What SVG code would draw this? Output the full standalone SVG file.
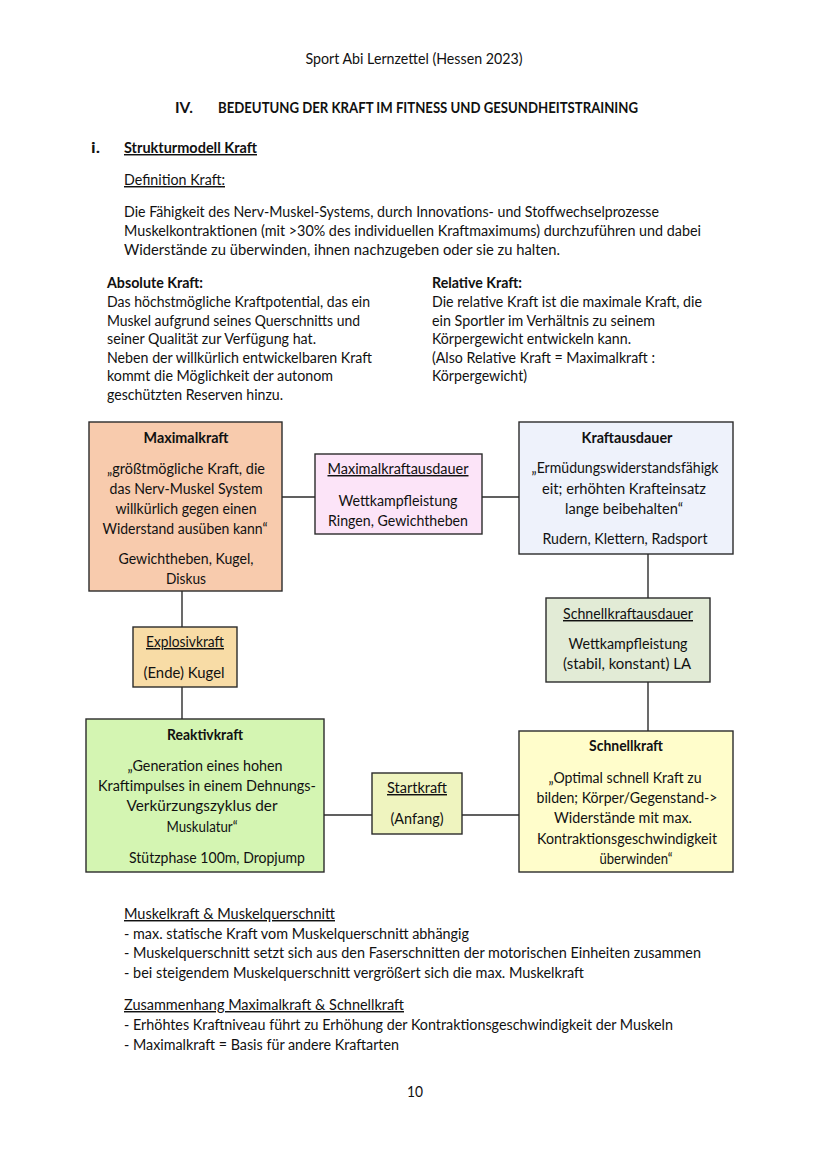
<svg xmlns="http://www.w3.org/2000/svg" width="828" height="1171" viewBox="0 0 828 1171">
<style>
text{font-family:Lato,"Open Sans","Liberation Sans",sans-serif;font-size:14.5px;fill:#111}
.b{font-weight:bold}
.u{text-decoration:underline}
.m{text-anchor:middle}
.box{stroke:#2b2b2b;stroke-width:1.4}
.c line{stroke:#2b2b2b;stroke-width:1.4}
</style>
<rect width="828" height="1171" fill="#fff"/>
<g id="header">
<text x="414" y="64" class="m" textLength="217" lengthAdjust="spacingAndGlyphs">Sport Abi Lernzettel (Hessen 2023)</text>
<text x="175" y="113" class="b" textLength="18" lengthAdjust="spacingAndGlyphs">IV.</text>
<text x="218" y="113" class="b" textLength="420" lengthAdjust="spacingAndGlyphs">BEDEUTUNG DER KRAFT IM FITNESS UND GESUNDHEITSTRAINING</text>
<text x="91" y="153" class="b" textLength="9" lengthAdjust="spacingAndGlyphs">i.</text>
<text x="124" y="153" class="b u" textLength="133" lengthAdjust="spacingAndGlyphs">Strukturmodell Kraft</text>
<text x="124" y="185" class="u" textLength="101" lengthAdjust="spacingAndGlyphs">Definition Kraft:</text>
<text x="124" y="217" textLength="535" lengthAdjust="spacingAndGlyphs">Die Fähigkeit des Nerv-Muskel-Systems, durch Innovations- und Stoffwechselprozesse</text>
<text x="124" y="236" textLength="577" lengthAdjust="spacingAndGlyphs">Muskelkontraktionen (mit &gt;30% des individuellen Kraftmaximums) durchzuführen und dabei</text>
<text x="124" y="255" textLength="436" lengthAdjust="spacingAndGlyphs">Widerstände zu überwinden, ihnen nachzugeben oder sie zu halten.</text>
</g>
<g id="absolute">
<text x="107" y="288" class="b" textLength="96" lengthAdjust="spacingAndGlyphs">Absolute Kraft:</text>
<text x="107" y="307" textLength="263" lengthAdjust="spacingAndGlyphs">Das höchstmögliche Kraftpotential, das ein</text>
<text x="107" y="326" textLength="253" lengthAdjust="spacingAndGlyphs">Muskel aufgrund seines Querschnitts und</text>
<text x="107" y="344" textLength="209" lengthAdjust="spacingAndGlyphs">seiner Qualität zur Verfügung hat.</text>
<text x="107" y="363" textLength="265" lengthAdjust="spacingAndGlyphs">Neben der willkürlich entwickelbaren Kraft</text>
<text x="107" y="381" textLength="226" lengthAdjust="spacingAndGlyphs">kommt die Möglichkeit der autonom</text>
<text x="107" y="400" textLength="176" lengthAdjust="spacingAndGlyphs">geschützten Reserven hinzu.</text>
</g>
<g id="relative">
<text x="432" y="288" class="b" textLength="90" lengthAdjust="spacingAndGlyphs">Relative Kraft:</text>
<text x="432" y="307" textLength="270" lengthAdjust="spacingAndGlyphs">Die relative Kraft ist die maximale Kraft, die</text>
<text x="432" y="326" textLength="223" lengthAdjust="spacingAndGlyphs">ein Sportler im Verhältnis zu seinem</text>
<text x="432" y="344" textLength="199" lengthAdjust="spacingAndGlyphs">Körpergewicht entwickeln kann.</text>
<text x="432" y="363" textLength="223" lengthAdjust="spacingAndGlyphs">(Also Relative Kraft = Maximalkraft :</text>
<text x="432" y="381" textLength="95" lengthAdjust="spacingAndGlyphs">Körpergewicht)</text>
</g>
<g id="connectors" class="c">
<line x1="282" y1="497" x2="315" y2="497"/>
<line x1="482" y1="497" x2="519" y2="497"/>
<line x1="648" y1="554" x2="648" y2="598"/>
<line x1="648" y1="682" x2="648" y2="731"/>
<line x1="182" y1="591" x2="182" y2="627"/>
<line x1="182" y1="687" x2="182" y2="719"/>
<line x1="324" y1="815" x2="372" y2="815"/>
<line x1="462" y1="815" x2="519" y2="815"/>
</g>
<g id="maximalkraft">
<rect class="box" x="89" y="422" width="193" height="169" fill="#F8CBAD"/>
<text x="186" y="443" class="m b" textLength="85" lengthAdjust="spacingAndGlyphs">Maximalkraft</text>
<text x="186" y="474" class="m" textLength="158" lengthAdjust="spacingAndGlyphs">„größtmögliche Kraft, die</text>
<text x="186" y="494" class="m" textLength="153" lengthAdjust="spacingAndGlyphs">das Nerv-Muskel System</text>
<text x="186" y="514" class="m" textLength="141" lengthAdjust="spacingAndGlyphs">willkürlich gegen einen</text>
<text x="185" y="534" class="m" textLength="165" lengthAdjust="spacingAndGlyphs">Widerstand ausüben kann“</text>
<text x="186" y="564" class="m" textLength="135" lengthAdjust="spacingAndGlyphs">Gewichtheben, Kugel,</text>
<text x="186" y="584" class="m" textLength="40" lengthAdjust="spacingAndGlyphs">Diskus</text>
</g>
<g id="maximalkraftausdauer">
<rect class="box" x="315" y="454" width="167" height="80" fill="#FCE4F8"/>
<text x="398" y="474" class="m u" textLength="141" lengthAdjust="spacingAndGlyphs">Maximalkraftausdauer</text>
<text x="398" y="506" class="m" textLength="119" lengthAdjust="spacingAndGlyphs">Wettkampfleistung</text>
<text x="398" y="526" class="m" textLength="140" lengthAdjust="spacingAndGlyphs">Ringen, Gewichtheben</text>
</g>
<g id="kraftausdauer">
<rect class="box" x="519" y="422" width="214" height="132" fill="#EEF2FB"/>
<text x="627" y="443" class="m b" textLength="91" lengthAdjust="spacingAndGlyphs">Kraftausdauer</text>
<text x="625" y="473" class="m" textLength="187" lengthAdjust="spacingAndGlyphs">„Ermüdungswiderstandsfähigk</text>
<text x="624" y="494" class="m" textLength="164" lengthAdjust="spacingAndGlyphs">eit; erhöhten Krafteinsatz</text>
<text x="624" y="514" class="m" textLength="118" lengthAdjust="spacingAndGlyphs">lange beibehalten“</text>
<text x="625" y="544" class="m" textLength="165" lengthAdjust="spacingAndGlyphs">Rudern, Klettern, Radsport</text>
</g>
<g id="schnellkraftausdauer">
<rect class="box" x="546" y="598" width="164" height="84" fill="#E2EBD6"/>
<text x="628" y="619" class="m u" textLength="130" lengthAdjust="spacingAndGlyphs">Schnellkraftausdauer</text>
<text x="628" y="649" class="m" textLength="119" lengthAdjust="spacingAndGlyphs">Wettkampfleistung</text>
<text x="627" y="669" class="m" textLength="128" lengthAdjust="spacingAndGlyphs">(stabil, konstant) LA</text>
</g>
<g id="explosivkraft">
<rect class="box" x="133" y="627" width="104" height="60" fill="#F8DCA6"/>
<text x="185" y="647" class="m u" textLength="78" lengthAdjust="spacingAndGlyphs">Explosivkraft</text>
<text x="184" y="678" class="m" textLength="81" lengthAdjust="spacingAndGlyphs">(Ende) Kugel</text>
</g>
<g id="reaktivkraft">
<rect class="box" x="86" y="719" width="238" height="153" fill="#D4F5B2"/>
<text x="205" y="740" class="m b" textLength="76" lengthAdjust="spacingAndGlyphs">Reaktivkraft</text>
<text x="205" y="771" class="m" textLength="155" lengthAdjust="spacingAndGlyphs">„Generation eines hohen</text>
<text x="207" y="791" class="m" textLength="218" lengthAdjust="spacingAndGlyphs">Kraftimpulses in einem Dehnungs-</text>
<text x="202" y="811" class="m" textLength="151" lengthAdjust="spacingAndGlyphs">Verkürzungszyklus der</text>
<text x="202" y="832" class="m" textLength="71" lengthAdjust="spacingAndGlyphs">Muskulatur“</text>
<text x="217" y="863" class="m" textLength="176" lengthAdjust="spacingAndGlyphs">Stützphase 100m, Dropjump</text>
</g>
<g id="startkraft">
<rect class="box" x="372" y="773" width="90" height="61" fill="#EFF4BF"/>
<text x="417" y="793" class="m u" textLength="60" lengthAdjust="spacingAndGlyphs">Startkraft</text>
<text x="417" y="824" class="m" textLength="53" lengthAdjust="spacingAndGlyphs">(Anfang)</text>
</g>
<g id="schnellkraft">
<rect class="box" x="519" y="731" width="214" height="141" fill="#FFFDCB"/>
<text x="626" y="751" class="m b" textLength="74" lengthAdjust="spacingAndGlyphs">Schnellkraft</text>
<text x="625" y="783" class="m" textLength="153" lengthAdjust="spacingAndGlyphs">„Optimal schnell Kraft zu</text>
<text x="627" y="803" class="m" textLength="181" lengthAdjust="spacingAndGlyphs">bilden; Körper/Gegenstand-&gt;</text>
<text x="623" y="823" class="m" textLength="138" lengthAdjust="spacingAndGlyphs">Widerstände mit max.</text>
<text x="627" y="844" class="m" textLength="180" lengthAdjust="spacingAndGlyphs">Kontraktionsgeschwindigkeit</text>
<text x="636" y="864" class="m" textLength="73" lengthAdjust="spacingAndGlyphs">überwinden“</text>
</g>
<g id="notes">
<text x="124" y="919" class="u" textLength="211" lengthAdjust="spacingAndGlyphs">Muskelkraft &amp; Muskelquerschnitt</text>
<text x="124" y="939" textLength="345" lengthAdjust="spacingAndGlyphs">- max. statische Kraft vom Muskelquerschnitt abhängig</text>
<text x="124" y="958" textLength="577" lengthAdjust="spacingAndGlyphs">- Muskelquerschnitt setzt sich aus den Faserschnitten der motorischen Einheiten zusammen</text>
<text x="124" y="978" textLength="460" lengthAdjust="spacingAndGlyphs">- bei steigendem Muskelquerschnitt vergrößert sich die max. Muskelkraft</text>
<text x="124" y="1010" class="u" textLength="280" lengthAdjust="spacingAndGlyphs">Zusammenhang Maximalkraft &amp; Schnellkraft</text>
<text x="124" y="1030" textLength="549" lengthAdjust="spacingAndGlyphs">- Erhöhtes Kraftniveau führt zu Erhöhung der Kontraktionsgeschwindigkeit der Muskeln</text>
<text x="124" y="1050" textLength="275" lengthAdjust="spacingAndGlyphs">- Maximalkraft = Basis für andere Kraftarten</text>
<text x="415" y="1097" class="m" textLength="16" lengthAdjust="spacingAndGlyphs">10</text>
</g>
</svg>
